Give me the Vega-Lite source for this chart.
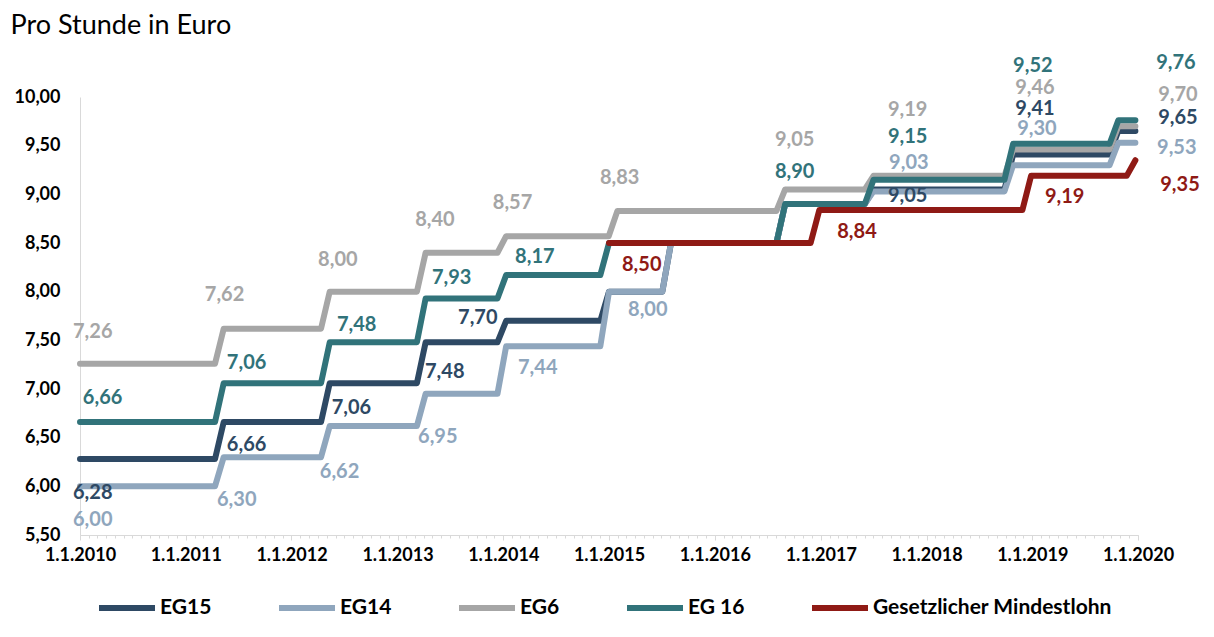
{
  "$schema": "https://vega.github.io/schema/vega-lite/v6.json",
  "width": 1058,
  "height": 438,
  "autosize": "none",
  "padding": {"left": 80, "top": 97, "right": 76, "bottom": 102},
  "background": "white",
  "config": {"view": {"stroke": null}, "font": "Lato"},
  "datasets": {
    "steps": [
      {"series": "EG15", "date": "2010-01-01", "value": 6.28},
      {"series": "EG15", "date": "2011-04-12", "value": 6.28},
      {"series": "EG15", "date": "2011-05-12", "value": 6.66},
      {"series": "EG15", "date": "2012-04-12", "value": 6.66},
      {"series": "EG15", "date": "2012-05-12", "value": 7.06},
      {"series": "EG15", "date": "2013-03-09", "value": 7.06},
      {"series": "EG15", "date": "2013-04-08", "value": 7.48},
      {"series": "EG15", "date": "2013-12-12", "value": 7.48},
      {"series": "EG15", "date": "2014-01-11", "value": 7.70},
      {"series": "EG15", "date": "2014-12-02", "value": 7.70},
      {"series": "EG15", "date": "2015-01-01", "value": 8.00},
      {"series": "EG15", "date": "2015-07-04", "value": 8.00},
      {"series": "EG15", "date": "2015-08-03", "value": 8.50},
      {"series": "EG15", "date": "2016-08-01", "value": 8.50},
      {"series": "EG15", "date": "2016-08-31", "value": 8.90},
      {"series": "EG15", "date": "2017-06-02", "value": 8.90},
      {"series": "EG15", "date": "2017-07-02", "value": 9.05},
      {"series": "EG15", "date": "2018-09-27", "value": 9.05},
      {"series": "EG15", "date": "2018-10-27", "value": 9.41},
      {"series": "EG15", "date": "2019-09-25", "value": 9.41},
      {"series": "EG15", "date": "2019-10-25", "value": 9.65},
      {"series": "EG15", "date": "2019-12-23", "value": 9.65},
      {"series": "EG14", "date": "2010-01-01", "value": 6.00},
      {"series": "EG14", "date": "2011-04-12", "value": 6.00},
      {"series": "EG14", "date": "2011-05-12", "value": 6.30},
      {"series": "EG14", "date": "2012-04-12", "value": 6.30},
      {"series": "EG14", "date": "2012-05-12", "value": 6.62},
      {"series": "EG14", "date": "2013-03-09", "value": 6.62},
      {"series": "EG14", "date": "2013-04-08", "value": 6.95},
      {"series": "EG14", "date": "2013-12-12", "value": 6.95},
      {"series": "EG14", "date": "2014-01-11", "value": 7.44},
      {"series": "EG14", "date": "2014-12-02", "value": 7.44},
      {"series": "EG14", "date": "2015-01-01", "value": 8.00},
      {"series": "EG14", "date": "2015-07-04", "value": 8.00},
      {"series": "EG14", "date": "2015-08-03", "value": 8.50},
      {"series": "EG14", "date": "2016-08-01", "value": 8.50},
      {"series": "EG14", "date": "2016-08-31", "value": 8.90},
      {"series": "EG14", "date": "2017-06-02", "value": 8.90},
      {"series": "EG14", "date": "2017-07-02", "value": 9.03},
      {"series": "EG14", "date": "2018-09-27", "value": 9.03},
      {"series": "EG14", "date": "2018-10-27", "value": 9.30},
      {"series": "EG14", "date": "2019-09-25", "value": 9.30},
      {"series": "EG14", "date": "2019-10-25", "value": 9.53},
      {"series": "EG14", "date": "2019-12-23", "value": 9.53},
      {"series": "EG6", "date": "2010-01-01", "value": 7.26},
      {"series": "EG6", "date": "2011-04-12", "value": 7.26},
      {"series": "EG6", "date": "2011-05-12", "value": 7.62},
      {"series": "EG6", "date": "2012-04-12", "value": 7.62},
      {"series": "EG6", "date": "2012-05-12", "value": 8.00},
      {"series": "EG6", "date": "2013-03-09", "value": 8.00},
      {"series": "EG6", "date": "2013-04-08", "value": 8.40},
      {"series": "EG6", "date": "2013-12-12", "value": 8.40},
      {"series": "EG6", "date": "2014-01-11", "value": 8.57},
      {"series": "EG6", "date": "2014-12-31", "value": 8.57},
      {"series": "EG6", "date": "2015-01-30", "value": 8.83},
      {"series": "EG6", "date": "2016-08-01", "value": 8.83},
      {"series": "EG6", "date": "2016-08-31", "value": 9.05},
      {"series": "EG6", "date": "2017-06-02", "value": 9.05},
      {"series": "EG6", "date": "2017-07-02", "value": 9.19},
      {"series": "EG6", "date": "2018-09-27", "value": 9.19},
      {"series": "EG6", "date": "2018-10-27", "value": 9.46},
      {"series": "EG6", "date": "2019-09-25", "value": 9.46},
      {"series": "EG6", "date": "2019-10-25", "value": 9.70},
      {"series": "EG6", "date": "2019-12-23", "value": 9.70},
      {"series": "EG 16", "date": "2010-01-01", "value": 6.66},
      {"series": "EG 16", "date": "2011-04-12", "value": 6.66},
      {"series": "EG 16", "date": "2011-05-12", "value": 7.06},
      {"series": "EG 16", "date": "2012-04-12", "value": 7.06},
      {"series": "EG 16", "date": "2012-05-12", "value": 7.48},
      {"series": "EG 16", "date": "2013-03-09", "value": 7.48},
      {"series": "EG 16", "date": "2013-04-08", "value": 7.93},
      {"series": "EG 16", "date": "2013-12-12", "value": 7.93},
      {"series": "EG 16", "date": "2014-01-11", "value": 8.17},
      {"series": "EG 16", "date": "2014-12-02", "value": 8.17},
      {"series": "EG 16", "date": "2015-01-01", "value": 8.50},
      {"series": "EG 16", "date": "2016-08-01", "value": 8.50},
      {"series": "EG 16", "date": "2016-08-31", "value": 8.90},
      {"series": "EG 16", "date": "2017-06-02", "value": 8.90},
      {"series": "EG 16", "date": "2017-07-02", "value": 9.15},
      {"series": "EG 16", "date": "2018-09-27", "value": 9.15},
      {"series": "EG 16", "date": "2018-10-27", "value": 9.52},
      {"series": "EG 16", "date": "2019-09-25", "value": 9.52},
      {"series": "EG 16", "date": "2019-10-25", "value": 9.76},
      {"series": "EG 16", "date": "2019-12-23", "value": 9.76},
      {"series": "Gesetzlicher Mindestlohn", "date": "2015-01-01", "value": 8.50},
      {"series": "Gesetzlicher Mindestlohn", "date": "2016-11-27", "value": 8.50},
      {"series": "Gesetzlicher Mindestlohn", "date": "2016-12-27", "value": 8.84},
      {"series": "Gesetzlicher Mindestlohn", "date": "2018-11-28", "value": 8.84},
      {"series": "Gesetzlicher Mindestlohn", "date": "2018-12-28", "value": 9.19},
      {"series": "Gesetzlicher Mindestlohn", "date": "2019-11-23", "value": 9.19},
      {"series": "Gesetzlicher Mindestlohn", "date": "2019-12-23", "value": 9.35}
    ],
    "labels": [
      {"series": "EG6", "date": "2010-02-14", "value": 7.586, "label": "7,26"},
      {"series": "EG6", "date": "2011-05-15", "value": 7.966, "label": "7,62"},
      {"series": "EG6", "date": "2012-06-09", "value": 8.325, "label": "8,00"},
      {"series": "EG6", "date": "2013-05-10", "value": 8.736, "label": "8,40"},
      {"series": "EG6", "date": "2014-02-02", "value": 8.911, "label": "8,57"},
      {"series": "EG6", "date": "2015-02-07", "value": 9.168, "label": "8,83"},
      {"series": "EG6", "date": "2016-10-03", "value": 9.558, "label": "9,05"},
      {"series": "EG6", "date": "2017-10-28", "value": 9.866, "label": "9,19"},
      {"series": "EG6", "date": "2019-01-10", "value": 10.09, "label": "9,46"},
      {"series": "EG6", "date": "2020-05-18", "value": 10.02, "label": "9,70"},
      {"series": "EG 16", "date": "2010-03-20", "value": 6.907, "label": "6,66"},
      {"series": "EG 16", "date": "2011-07-30", "value": 7.267, "label": "7,06"},
      {"series": "EG 16", "date": "2012-08-13", "value": 7.657, "label": "7,48"},
      {"series": "EG 16", "date": "2013-07-07", "value": 8.14, "label": "7,93"},
      {"series": "EG 16", "date": "2014-04-20", "value": 8.356, "label": "8,17"},
      {"series": "EG 16", "date": "2016-10-03", "value": 9.23, "label": "8,90"},
      {"series": "EG 16", "date": "2017-10-28", "value": 9.589, "label": "9,15"},
      {"series": "EG 16", "date": "2019-01-03", "value": 10.318, "label": "9,52"},
      {"series": "EG 16", "date": "2020-05-11", "value": 10.349, "label": "9,76"},
      {"series": "EG15", "date": "2010-02-14", "value": 5.931, "label": "6,28"},
      {"series": "EG15", "date": "2011-07-30", "value": 6.425, "label": "6,66"},
      {"series": "EG15", "date": "2012-07-26", "value": 6.805, "label": "7,06"},
      {"series": "EG15", "date": "2013-06-13", "value": 7.175, "label": "7,48"},
      {"series": "EG15", "date": "2013-10-05", "value": 7.729, "label": "7,70"},
      {"series": "EG15", "date": "2017-10-28", "value": 8.983, "label": "9,05"},
      {"series": "EG15", "date": "2019-01-10", "value": 9.876, "label": "9,41"},
      {"series": "EG15", "date": "2020-05-18", "value": 9.784, "label": "9,65"},
      {"series": "EG14", "date": "2010-02-14", "value": 5.654, "label": "6,00"},
      {"series": "EG14", "date": "2011-06-26", "value": 5.86, "label": "6,30"},
      {"series": "EG14", "date": "2012-06-15", "value": 6.147, "label": "6,62"},
      {"series": "EG14", "date": "2013-05-20", "value": 6.507, "label": "6,95"},
      {"series": "EG14", "date": "2014-04-30", "value": 7.216, "label": "7,44"},
      {"series": "EG14", "date": "2015-05-15", "value": 7.81, "label": "8,00"},
      {"series": "EG14", "date": "2017-11-01", "value": 9.322, "label": "9,03"},
      {"series": "EG14", "date": "2019-01-17", "value": 9.671, "label": "9,30"},
      {"series": "EG14", "date": "2020-05-14", "value": 9.476, "label": "9,53"},
      {"series": "Gesetzlicher Mindestlohn", "date": "2015-04-24", "value": 8.274, "label": "8,50"},
      {"series": "Gesetzlicher Mindestlohn", "date": "2017-05-06", "value": 8.613, "label": "8,84"},
      {"series": "Gesetzlicher Mindestlohn", "date": "2019-04-23", "value": 8.973, "label": "9,19"},
      {"series": "Gesetzlicher Mindestlohn", "date": "2020-05-25", "value": 9.096, "label": "9,35"}
    ]
  },
  "encoding": {
    "y": {
      "field": "value",
      "type": "quantitative",
      "scale": {"domain": [5.5, 10], "zero": false, "nice": false},
      "axis": {
        "values": [5.5, 6, 6.5, 7, 7.5, 8, 8.5, 9, 9.5, 10],
        "labelExpr": "replace(format(datum.value, '.2f'), '.', ',')",
        "ticks": false,
        "tickSize": 0,
        "grid": false,
        "domainColor": "#D9D9D9",
        "domainWidth": 1,
        "labelFont": "Lato",
        "labelFontSize": 18,
        "labelFontWeight": "bold",
        "labelColor": "#000000",
        "labelPadding": 20,
        "labelFlush": false,
        "title": "Pro Stunde in Euro",
        "titleAngle": 0,
        "titleX": -70,
        "titleY": -64,
        "titleAlign": "left",
        "titleBaseline": "alphabetic",
        "titleFont": "Lato",
        "titleFontSize": 27,
        "titleFontWeight": "normal",
        "titleColor": "#000000"
      }
    }
  },
  "layer": [
    {
      "data": {"name": "steps"},
      "mark": {"type": "line", "strokeWidth": 6, "strokeCap": "round", "strokeJoin": "round"},
      "encoding": {
        "x": {
          "field": "date",
          "type": "temporal",
          "scale": {"type": "utc", "domain": [{"year": 2010, "month": 1, "date": 1, "utc": true}, {"year": 2020, "month": 1, "date": 1, "utc": true}]},
          "axis": {
            "orient": "bottom",
            "values": [
              {"year": 2010, "month": 1, "date": 1, "utc": true},
              {"year": 2011, "month": 1, "date": 1, "utc": true},
              {"year": 2012, "month": 1, "date": 1, "utc": true},
              {"year": 2013, "month": 1, "date": 1, "utc": true},
              {"year": 2014, "month": 1, "date": 1, "utc": true},
              {"year": 2015, "month": 1, "date": 1, "utc": true},
              {"year": 2016, "month": 1, "date": 1, "utc": true},
              {"year": 2017, "month": 1, "date": 1, "utc": true},
              {"year": 2018, "month": 1, "date": 1, "utc": true},
              {"year": 2019, "month": 1, "date": 1, "utc": true},
              {"year": 2020, "month": 1, "date": 1, "utc": true}
            ],
            "labelExpr": "'1.1.' + utcFormat(datum.value, '%Y')",
            "title": null,
            "grid": false,
            "tickSize": 5,
            "tickColor": "#D9D9D9",
            "domainColor": "#D9D9D9",
            "labelFont": "Lato",
            "labelFontSize": 18,
            "labelFontWeight": "bold",
            "labelColor": "#000000",
            "labelPadding": 6,
            "labelFlush": false,
            "labelOverlap": false
          }
        },
        "color": {
          "field": "series",
          "type": "nominal",
          "scale": {
            "domain": ["EG15", "EG14", "EG6", "EG 16", "Gesetzlicher Mindestlohn"],
            "range": ["#2E4964", "#8FA6BD", "#A6A6A6", "#31737A", "#8F1A15"]
          },
          "legend": {
            "orient": "none",
            "legendX": 16,
            "legendY": 480,
            "direction": "horizontal",
            "title": null,
            "symbolType": "stroke",
            "symbolSize": 3136,
            "symbolStrokeWidth": 6,
            "labelFont": "Lato",
            "labelFontSize": 21,
            "labelFontWeight": "bold",
            "labelColor": "#000000",
            "labelOffset": 2,
            "labelLimit": 400,
            "columnPadding": 55
          }
        }
      }
    },
    {
      "data": {"name": "labels"},
      "mark": {"type": "text", "font": "Lato", "fontWeight": "bold", "fontSize": 20, "align": "center", "baseline": "middle"},
      "encoding": {
        "x": {
          "field": "date",
          "type": "temporal",
          "axis": {
            "orient": "bottom",
            "tickCount": {"interval": "month", "step": 1},
            "labels": false,
            "domain": false,
            "grid": false,
            "tickSize": 3,
            "tickColor": "#D9D9D9",
            "title": null
          }
        },
        "text": {"field": "label", "type": "nominal"},
        "color": {"field": "series", "type": "nominal", "legend": null}
      }
    }
  ],
  "resolve": {"axis": {"x": "independent"}}
}
